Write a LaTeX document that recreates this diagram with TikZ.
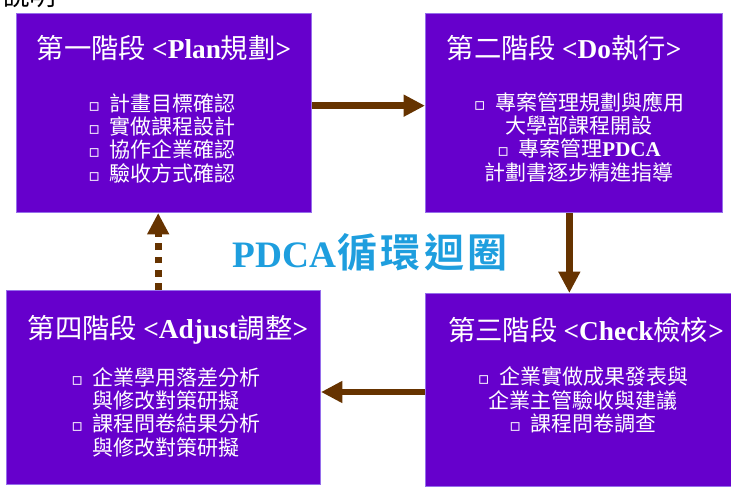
\documentclass[tikz,border=0pt]{standalone}
\usepackage{fontspec}
\setmainfont{Noto Sans CJK TC}
\newfontfamily\latfont{Liberation Serif}
\newfontfamily\symfont{DejaVu Sans}
\newfontfamily\cjkbold{Noto Sans CJK TC Bold}
\usetikzlibrary{arrows.meta}
\definecolor{boxfill}{RGB}{102,0,204}
\definecolor{boxedge}{RGB}{150,110,235}
\definecolor{arrbrown}{RGB}{102,51,0}
\definecolor{titleblue}{RGB}{30,158,222}
\newcommand{\latb}[1]{{\latfont\bfseries #1}}
\newcommand{\bulsq}{{\symfont\fontsize{13}{13}\selectfont ▫}\ \ }
\tikzset{
  phasebox/.style={draw=boxedge, fill=boxfill, line width=0.75pt, inner sep=0pt, anchor=north west},
  phasetitle/.style={text=white, inner sep=0pt, font=\fontsize{20.5}{24}\selectfont},
  phasebody/.style={text=white, inner sep=0pt, font=\fontsize{15.75}{17.5}\selectfont},
  arr/.style={draw=arrbrown, line width=5pt, -{Triangle[length=16pt,width=15.5pt]}},
  dasharr/.style={arr, dash pattern=on 5pt off 5pt}
}
\begin{document}
\begin{tikzpicture}[x=0.75pt,y=-0.75pt]
\useasboundingbox (0,0) rectangle (731,486);
% heading fragment, cut by the top edge as in the reference
\node[anchor=base west, inner sep=0pt, font=\fontsize{20}{20}\selectfont] (hd) at (3,5) {說明};
% boxes
\node[phasebox, minimum width=221.25pt, minimum height=149.25pt] (b1) at (16,13) {};
\node[phasebox, minimum width=222.75pt, minimum height=149.25pt] (b2) at (425,13) {};
\node[phasebox, minimum width=229.5pt, minimum height=144.75pt] (b3) at (425,293) {};
\node[phasebox, minimum width=235.5pt, minimum height=145.5pt] (b4) at (6,290) {};
% box 1
\node[phasetitle] (t1) at (164,48) {第一階段 \latb{<Plan}規劃\latb{>}};
\node[phasebody, align=left] (c1) at (162,138) {\bulsq{}計畫目標確認\\ \bulsq{}實做課程設計\\ \bulsq{}協作企業確認\\ \bulsq{}驗收方式確認};
% box 2
\node[phasetitle] (t2) at (564,48) {第二階段 \latb{<Do}執行\latb{>}};
\node[phasebody, align=center] (c2) at (579,137) {\bulsq{}專案管理規劃與應用\\ 大學部課程開設\\ \bulsq{}專案管理\latb{PDCA}\\ 計劃書逐步精進指導};
% box 3
\node[phasetitle] (t3) at (586,330) {第三階段 \latb{<Check}檢核\latb{>}};
\node[phasebody, align=center] (c3) at (583,400) {\bulsq{}企業實做成果發表與\\ 企業主管驗收與建議\\ \bulsq{}課程問卷調查};
% box 4
\node[phasetitle] (t4) at (168,330) {第四階段 \latb{<Adjust}調整\latb{>}};
\node[phasebody, align=left] (c4) at (166,412) {\bulsq{}企業學用落差分析\\ \phantom{\bulsq{}}與修改對策研擬\\ \bulsq{}課程問卷結果分析\\ \phantom{\bulsq{}}與修改對策研擬};
% centre title
\node[inner sep=0pt, text=titleblue] (mt) at (370,252) {\fontsize{28}{30}\selectfont\latb{PDCA}{\cjkbold\fontsize{30}{30}\selectfont\hspace{1pt}循\hspace{2.5pt}環\hspace{2.5pt}迴\hspace{2.5pt}圈}};
% arrows
\draw[arr] ([yshift=5.5pt]b1.east) -- ([yshift=5.5pt]b1.east -| b2.west);
\draw[arr] ([xshift=-3.5pt]b2.south) -- ([xshift=-3.5pt]b2.south |- b3.north);
\draw[arr] ([yshift=-1.5pt]b3.west) -- ([yshift=-1.5pt]b3.west -| b4.east);
\draw[dasharr] ([xshift=-4pt]b4.north) -- ([xshift=-4pt]b4.north |- b1.south);
\end{tikzpicture}
\end{document}
